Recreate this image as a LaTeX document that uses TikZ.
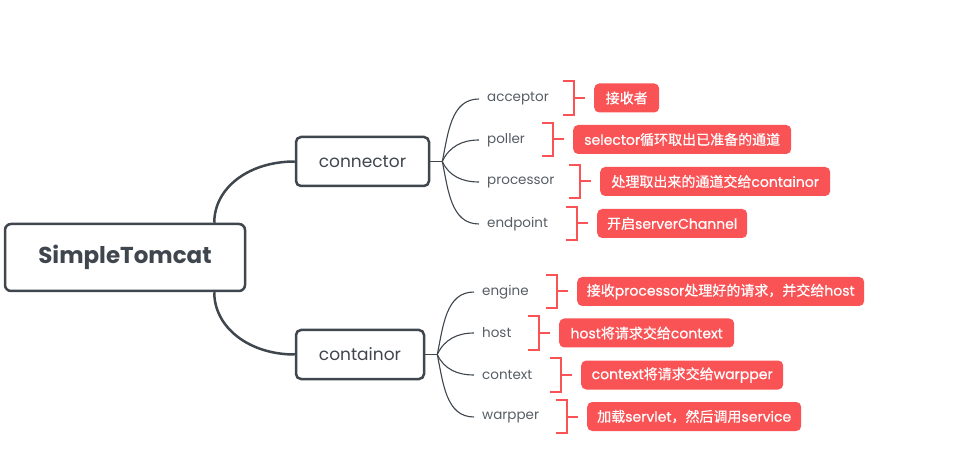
\documentclass[tikz,border=0pt]{standalone}
\usepackage{fontspec}
\setmainfont{Poppins}
\newfontfamily\notefont{Poppins}[FakeBold=0.6]
\newfontfamily\cjk{Noto Sans CJK SC}[FakeBold=0.6]
\usepackage{tikz}
\usetikzlibrary{positioning}
\definecolor{ink}{HTML}{3F464E}
\definecolor{leafgray}{HTML}{575D64}
\definecolor{notered}{HTML}{F95355}
\newcommand{\zh}[1]{{\cjk #1}}
\tikzstyle{mainbox}=[rectangle,rounded corners=6pt,line width=2.5pt,draw=ink,text=ink,minimum width=240pt,minimum height=67pt,font=\fontsize{23}{27}\selectfont\bfseries]
\tikzstyle{branchbox}=[rectangle,rounded corners=5pt,line width=2.5pt,draw=ink,text=ink,minimum height=49pt,font=\fontsize{17}{20}\selectfont]
\tikzstyle{leaf}=[anchor=west,inner xsep=8pt,text=leafgray,font=\fontsize{13.5}{16}\selectfont]
\tikzstyle{note}=[anchor=west,rectangle,rounded corners=5pt,fill=notered,text=white,minimum height=29pt,inner xsep=0pt,font=\fontsize{14}{17}\notefont]
\tikzstyle{trunk}=[line width=2.5pt,draw=ink]
\tikzstyle{twig}=[line width=1.1pt,draw=ink]
\tikzstyle{bracket}=[line width=2pt,draw=notered]

\begin{document}
\begin{tikzpicture}[x=1pt,y=1pt]
				\useasboundingbox (0,0) rectangle (959,464);
				
				\node [mainbox] (root) at (125,206.5) {SimpleTomcat};
				\node [branchbox,minimum width=133pt] (connector) at (362.5,302.5) {connector};
				\node [branchbox,minimum width=128pt] (containor) at (360,109.5) {containor};
				
				\draw[trunk] ([xshift=-32pt]root.north east) .. controls +(0,35) and +(-46,0) .. (connector.west);
				\draw[trunk] ([xshift=-32pt]root.south east) .. controls +(0,-35) and +(-46,0) .. (containor.west);
				
				% connector side
				\node [leaf] (acceptor) at (479,365) {acceptor};
				\node [leaf] (poller) at (479,324) {poller};
				\node [leaf] (processor) at (479,282) {processor};
				\node [leaf] (endpoint) at (479,240) {endpoint};
				
				\coordinate (conhub) at ([xshift=12pt]connector.east);
				\draw[twig] (connector.east) -- (conhub);
				\draw[twig] (conhub) to [out=78,in=180] (acceptor.west);
				\draw[twig] (conhub) to [out=65,in=180] (poller.west);
				\draw[twig] (conhub) to [out=-65,in=180] (processor.west);
				\draw[twig] (conhub) to [out=-78,in=180] (endpoint.west);
				
				% containor side
				\node [leaf] (engine) at (474,172) {engine};
				\node [leaf] (host) at (474,131) {host};
				\node [leaf] (context) at (474,89) {context};
				\node [leaf] (warpper) at (474,47) {warpper};
				
				\coordinate (conthub) at ([xshift=12pt]containor.east);
				\draw[twig] (containor.east) -- (conthub);
				\draw[twig] (conthub) to [out=78,in=180] (engine.west);
				\draw[twig] (conthub) to [out=65,in=180] (host.west);
				\draw[twig] (conthub) to [out=-65,in=180] (context.west);
				\draw[twig] (conthub) to [out=-78,in=180] (warpper.west);
				
				% notes
				\node [note,minimum width=65pt] (nacceptor) at (594,366) {\zh{接收者}};
				\node [note,minimum width=218pt] (npoller) at (573,324.5) {selector\zh{循环取出已准备的通道}};
				\node [note,minimum width=230pt] (nprocessor) at (600,282.5) {\zh{处理取出来的通道交给}containor};
				\node [note,minimum width=150pt] (nendpoint) at (597,240.5) {\zh{开启}serverChannel};
				\node [note,minimum width=287pt] (nengine) at (577,172.5) {\zh{接收}processor\zh{处理好的请求，并交给}host};
				\node [note,minimum width=175pt] (nhost) at (559,131) {host\zh{将请求交给}context};
				\node [note,minimum width=202pt] (ncontext) at (581,89) {context\zh{将请求交给}warpper};
				\node [note,minimum width=214pt] (nwarpper) at (587,47.5) {\zh{加载}servlet\zh{，然后调用}service};
				
				% brackets
				\draw[bracket] ([xshift=-31pt,yshift=2pt]nacceptor.north west) -| ([xshift=-20pt,yshift=-2pt]nacceptor.south west) -- ++(-11pt,0);
				\draw[bracket] ([xshift=-20pt]nacceptor.west) -- ([xshift=-9pt]nacceptor.west);
				\draw[bracket] ([xshift=-31pt,yshift=2pt]npoller.north west) -| ([xshift=-20pt,yshift=-2pt]npoller.south west) -- ++(-11pt,0);
				\draw[bracket] ([xshift=-20pt]npoller.west) -- ([xshift=-9pt]npoller.west);
				\draw[bracket] ([xshift=-31pt,yshift=2pt]nprocessor.north west) -| ([xshift=-20pt,yshift=-2pt]nprocessor.south west) -- ++(-11pt,0);
				\draw[bracket] ([xshift=-20pt]nprocessor.west) -- ([xshift=-9pt]nprocessor.west);
				\draw[bracket] ([xshift=-31pt,yshift=2pt]nendpoint.north west) -| ([xshift=-20pt,yshift=-2pt]nendpoint.south west) -- ++(-11pt,0);
				\draw[bracket] ([xshift=-20pt]nendpoint.west) -- ([xshift=-9pt]nendpoint.west);
				\draw[bracket] ([xshift=-31pt,yshift=2pt]nengine.north west) -| ([xshift=-20pt,yshift=-2pt]nengine.south west) -- ++(-11pt,0);
				\draw[bracket] ([xshift=-20pt]nengine.west) -- ([xshift=-9pt]nengine.west);
				\draw[bracket] ([xshift=-31pt,yshift=2pt]nhost.north west) -| ([xshift=-20pt,yshift=-2pt]nhost.south west) -- ++(-11pt,0);
				\draw[bracket] ([xshift=-20pt]nhost.west) -- ([xshift=-9pt]nhost.west);
				\draw[bracket] ([xshift=-31pt,yshift=2pt]ncontext.north west) -| ([xshift=-20pt,yshift=-2pt]ncontext.south west) -- ++(-11pt,0);
				\draw[bracket] ([xshift=-20pt]ncontext.west) -- ([xshift=-9pt]ncontext.west);
				\draw[bracket] ([xshift=-31pt,yshift=2pt]nwarpper.north west) -| ([xshift=-20pt,yshift=-2pt]nwarpper.south west) -- ++(-11pt,0);
				\draw[bracket] ([xshift=-20pt]nwarpper.west) -- ([xshift=-9pt]nwarpper.west);
				
\end{tikzpicture}
\end{document}
